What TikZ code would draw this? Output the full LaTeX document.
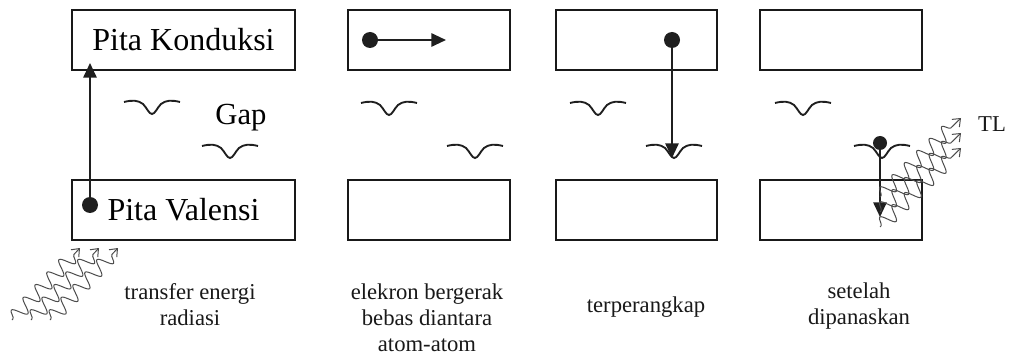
\documentclass[tikz,border=0pt]{standalone}
\usepackage{fontspec}
\setmainfont{Liberation Serif}
\usetikzlibrary{arrows.meta,decorations.pathmorphing}
\begin{document}
\begin{tikzpicture}[x=0.75pt,y=-0.75pt,
  box/.style={draw=black!90,line width=1.5pt,minimum height=45pt,inner sep=0pt,
    font=\fontsize{24}{28}\selectfont},
  electron/.style={circle,fill=black!88,inner sep=0pt,minimum size=12pt},
  arr/.style={line width=1.4pt,draw=black!88,-{Triangle[length=11pt,width=10pt]}},
  trapline/.style={line width=1.4pt,draw=black!88},
  wave/.style={draw=black!70,line width=0.75pt,
    decoration={snake,amplitude=5.5pt,segment length=13pt,pre length=1pt,post length=6pt},
    decorate,-{Straight Barb[length=5pt,width=8pt]}},
  lbl/.style={font=\fontsize{17}{19.2}\selectfont,align=center,text=black!90,inner sep=0pt},
  trap/.pic={\draw[trapline] (-28,1) .. controls (-20,-1) and (-14,-1) .. (-9,3)
      .. controls (-5,7) and (-3,13) .. (0,13) .. controls (3,13) and (5,7) .. (9,3)
      .. controls (14,-1) and (20,-1) .. (28,1);}
]
\fill[white] (0,0) rectangle (1010,356);
\useasboundingbox (0,0) rectangle (1010,356);

% bands
\node[box,minimum width=167.25pt] (c1) at (183.5,40) {Pita Konduksi};
\node[box,minimum width=167.25pt] (v1) at (183.5,210) {Pita Valensi};
\node[box,minimum width=121.5pt] (c2) at (429,40) {};
\node[box,minimum width=121.5pt] (v2) at (429,210) {};
\node[box,minimum width=120.75pt] (c3) at (636.5,40) {};
\node[box,minimum width=120.75pt] (v3) at (636.5,210) {};
\node[box,minimum width=121.5pt] (c4) at (841,40) {};
\node[box,minimum width=121.5pt] (v4) at (841,210) {};

% trap levels
\pic (t1a) at (152,101) {trap};
\pic (t1b) at (230,145) {trap};
\pic (t2a) at (389,102) {trap};
\pic (t2b) at (475,145) {trap};
\pic (t3a) at (598,102) {trap};
\pic (t3b) at (674,145) {trap};
\pic (t4a) at (803,102) {trap};
\pic (t4b) at (882,145) {trap};

\node[font=\fontsize{23}{27}\selectfont,anchor=base,inner sep=0pt] (gap) at (241,125) {Gap};

% electrons and transitions
\node[electron] (e1) at (90,205) {};
\coordinate (e1to) at (90,63);
\draw[arr] (e1) -- (e1to);

\node[electron] (e2) at (370,40) {};
\coordinate (e2to) at (446,40);
\draw[arr] (e2) -- (e2to);

\node[electron] (e3) at (672,40) {};
\coordinate (e3to) at (672,158);
\draw[arr] (e3) -- (e3to);

\node[electron,minimum size=10.5pt] (e4) at (880,143) {};
\coordinate (e4to) at (880,217);
\draw[arr] (e4) -- (e4to);

% incoming radiation
\coordinate (r1s) at (12,320);  \coordinate (r1e) at (80,248);
\coordinate (r2s) at (31,320);  \coordinate (r2e) at (99,248);
\coordinate (r3s) at (50,320);  \coordinate (r3e) at (118,248);
\draw[wave] (r1s) -- (r1e);
\draw[wave] (r2s) -- (r2e);
\draw[wave] (r3s) -- (r3e);

% emitted light
\coordinate (l1s) at (880,197); \coordinate (l1e) at (961,118);
\coordinate (l2s) at (880,212); \coordinate (l2e) at (961,133);
\coordinate (l3s) at (880,227); \coordinate (l3e) at (961,148);
\draw[wave] (l1s) -- (l1e);
\draw[wave] (l2s) -- (l2e);
\draw[wave] (l3s) -- (l3e);
\node[lbl] (tl) at (992,124) {TL};

% captions (base anchor = baseline of last line)
\node[lbl,anchor=base] (cap1) at (190,325.5) {transfer energi\\radiasi};
\node[lbl,anchor=base] (cap2) at (427,351) {elekron bergerak\\bebas diantara\\atom-atom};
\node[lbl,anchor=base] (cap3) at (646,312) {terperangkap};
\node[lbl,anchor=base] (cap4) at (859,324.5) {setelah\\dipanaskan};
\end{tikzpicture}
\end{document}
